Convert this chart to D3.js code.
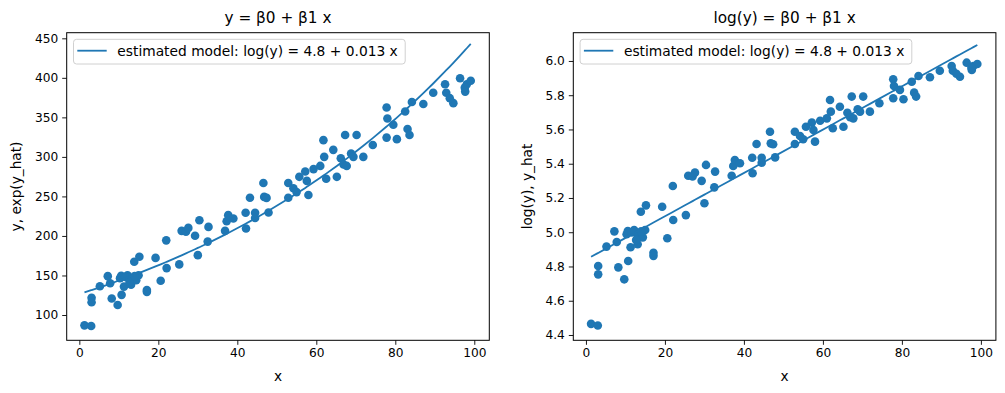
<!DOCTYPE html>
<html>
<head>
<meta charset="utf-8">
<script src="https://cdn.jsdelivr.net/npm/d3@7"></script>
<style>
  body { margin: 0; background: #fff; }
  svg { font-family: "DejaVu Sans", sans-serif; }
</style>
</head>
<body>
<svg id="chart" width="1005" height="393"></svg>
<script>
const xValues = [1.3, 3.0, 3.1, 3.1, 5.2, 7.2, 7.8, 8.2, 9.7, 10.7, 10.6, 10.3, 11.3, 12.2, 13.0, 13.1,
  14.4, 15.0, 13.9, 15.2, 17.1, 17.1, 19.3, 20.6, 22.0, 22.1, 25.3, 25.9, 27.0, 27.6, 29.3, 30.0,
  30.4, 32.7, 32.5, 36.9, 37.3, 37.7, 39.0, 42.1, 42.2, 43.2, 44.5, 44.5, 46.6, 46.8, 47.4, 47.9,
  52.9, 52.9, 54.2, 55.0, 55.7, 57.2, 57.6, 58.0, 59.3, 61.0, 61.8, 62.0, 62.5, 64.3, 65.2, 66.2,
  66.9, 67.3, 67.7, 68.8, 69.4, 70.2, 71.9, 74.3, 77.8, 78.0, 77.8, 79.5, 80.4, 82.5, 83.1, 83.6,
  84.2, 87.1, 89.6, 92.6, 92.9, 94.7, 96.4, 97.7, 98.1, 99.1, 11.6, 12.7, 14.0, 93.8, 97.6];
const logYValues = [4.465, 4.455, 4.803, 4.754, 4.916, 5.005, 4.943, 4.795, 4.725, 4.832, 5.007, 4.988, 4.912, 5.013, 4.988, 4.930,
  4.970, 5.013, 5.120, 5.157, 4.880, 4.862, 5.149, 4.965, 5.270, 5.071, 5.100, 5.330, 5.325, 5.348, 5.300, 5.169,
  5.393, 5.354, 5.262, 5.330, 5.387, 5.422, 5.403, 5.435, 5.344, 5.515, 5.435, 5.406, 5.587, 5.519, 5.514, 5.437,
  5.587, 5.515, 5.562, 5.543, 5.616, 5.640, 5.597, 5.529, 5.651, 5.665, 5.772, 5.704, 5.607, 5.733, 5.616, 5.698,
  5.671, 5.792, 5.665, 5.718, 5.704, 5.792, 5.704, 5.753, 5.893, 5.854, 5.782, 5.831, 5.776, 5.879, 5.815, 5.792,
  5.912, 5.905, 5.943, 5.971, 5.943, 5.908, 5.990, 5.947, 5.971, 5.982, 4.998, 4.955, 5.005, 5.925, 5.960];

// fitted model (legend shows it rounded)
const beta0 = 4.84;
const beta1 = 0.01265;
const legendText = 'estimated model: log(y) = 4.8 + 0.013 x';

const xTicks = [0, 20, 40, 60, 80, 100];
const yTicksLeft = [100, 150, 200, 250, 300, 350, 400, 450];
const yTicksRight = [4.4, 4.6, 4.8, 5.0, 5.2, 5.4, 5.6, 5.8, 6.0];

const blue = '#1f77b4';
const svg = d3.select('#chart');

const points = xValues.map((x, i) => ({ x: x, ly: logYValues[i], y: Math.exp(logYValues[i]) }));
const fitted = xValues.slice().sort((a, b) => a - b)
  .map(x => ({ x: x, ly: beta0 + beta1 * x, y: Math.exp(beta0 + beta1 * x) }));

function drawPanel(o) {
  const top = 32.7, bottom = 340.3;
  const x = d3.scaleLinear().domain([-3.2, 103.8]).range([o.left, o.left + 422.6]);
  const y = d3.scaleLinear().domain(o.yDomain).range([bottom, top]);
  const g = svg.append('g');

  // points
  g.selectAll('circle').data(points).enter().append('circle')
    .attr('cx', d => x(d.x))
    .attr('cy', d => y(d[o.key]))
    .attr('r', 4.3)
    .attr('fill', blue);

  // model line
  const line = d3.line().x(d => x(d.x)).y(d => y(d[o.key]));
  g.append('path').datum(fitted)
    .attr('fill', 'none')
    .attr('stroke', blue)
    .attr('stroke-width', 1.8)
    .attr('d', line);

  // axes
  const xAxis = d3.axisBottom(x).tickValues(xTicks).tickSize(4.5).tickPadding(4).tickFormat(d3.format('d'));
  const gx = g.append('g').attr('transform', `translate(0,${bottom})`).call(xAxis);
  const yAxis = d3.axisLeft(y).tickValues(o.yTicks).tickSize(4.5).tickPadding(4).tickFormat(o.fmt);
  const gy = g.append('g').attr('transform', `translate(${o.left},0)`).call(yAxis);
  [gx, gy].forEach(a => {
    a.select('.domain').remove();
    a.selectAll('line').attr('stroke', '#000').attr('stroke-width', 0.9);
    a.selectAll('text').attr('font-size', 12.2).attr('fill', '#000').attr('font-family', 'DejaVu Sans');
  });

  // frame
  g.append('rect')
    .attr('x', o.left).attr('y', top)
    .attr('width', 422.6).attr('height', bottom - top)
    .attr('fill', 'none').attr('stroke', '#000').attr('stroke-width', 1);

  // legend
  g.append('rect')
    .attr('x', o.left + 6.8).attr('y', 39.3)
    .attr('width', o.legendW).attr('height', 24.7)
    .attr('rx', 3)
    .attr('fill', '#fff').attr('fill-opacity', 0.8)
    .attr('stroke', '#d0d0d0').attr('stroke-width', 1);
  g.append('line')
    .attr('x1', o.left + 10.6).attr('x2', o.left + 40)
    .attr('y1', 50.7).attr('y2', 50.7)
    .attr('stroke', blue).attr('stroke-width', 1.8);
  g.append('text')
    .attr('x', o.left + 50.6).attr('y', 55.8)
    .attr('font-size', 13.8)
    .text(legendText);

  // titles and labels
  g.append('text')
    .attr('x', o.left + 211.3).attr('y', 22.5)
    .attr('text-anchor', 'middle')
    .attr('font-size', 15.3)
    .text(o.title);
  g.append('text')
    .attr('x', o.left + 211.3).attr('y', 380.5)
    .attr('text-anchor', 'middle')
    .attr('font-size', 13.7)
    .text('x');
  g.append('text')
    .attr('transform', `translate(${o.ylabelX},${(top + bottom) / 2}) rotate(-90)`)
    .attr('text-anchor', 'middle')
    .attr('font-size', 13.7)
    .text(o.ylabel);
}

drawPanel({
  left: 66.7, key: 'y', yDomain: [68, 457.1], yTicks: yTicksLeft, fmt: d3.format('d'),
  title: 'y = β0 + β1 x', ylabel: 'y, exp(y_hat)', ylabelX: 20.5, legendW: 331.7
});
drawPanel({
  left: 573.3, key: 'ly', yDomain: [4.369, 6.165], yTicks: yTicksRight, fmt: d3.format('.1f'),
  title: 'log(y) = β0 + β1 x', ylabel: 'log(y), y_hat', ylabelX: 531.5, legendW: 331.7
});
</script>
</body>
</html>
